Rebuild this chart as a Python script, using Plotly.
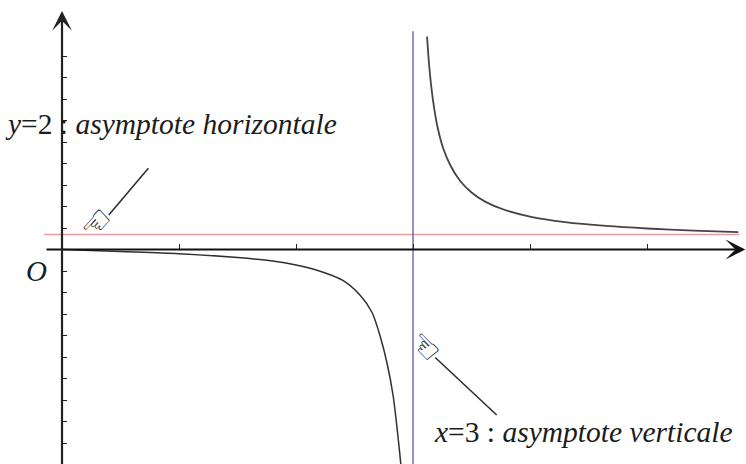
import plotly.graph_objects as go

# ---- data ----
H_ASYMPTOTE = 2          # y = 2
V_ASYMPTOTE = 3          # x = 3

left_x = [0.0, 0.5, 1.0, 1.5, 1.8, 2.0, 2.2, 2.4, 2.55, 2.65, 2.72, 2.78,
          2.83, 2.87, 2.9, 2.915]
left_y = [0.0, -0.27, -0.56, -1.07, -1.53, -2.07, -2.87, -4.13, -6.13, -8.4,
          -11.6, -15.3, -19.5, -24.7, -29.3, -32.0]

right_x = [3.12, 3.14, 3.17, 3.21, 3.26, 3.32, 3.4, 3.5, 3.62, 3.78, 4.0,
           4.3, 4.65, 5.0, 5.4, 5.78]
right_y = [28.4, 24.2, 20.0, 16.3, 13.4, 11.2, 9.2, 7.6, 6.35, 5.3, 4.4,
           3.66, 3.14, 2.8, 2.53, 2.33]

h_line_x = [-0.155, 5.79]
v_line_y = [-30.0, 29.1]

x_ticks = [1, 2, 3, 4, 5]
y_tick_step = 2.867
y_ticks = [k * y_tick_step for k in range(-10, 10)]

# ---- geometry of the view ----
X_RANGE = [-0.530, 5.846]
Y_RANGE = [-28.6, 33.27]

SERIF = "Liberation Serif"
TXT = "#1c1c1c"

fig = go.Figure()

fig.add_trace(go.Scatter(x=h_line_x, y=[H_ASYMPTOTE, H_ASYMPTOTE], mode="lines",
                         line=dict(color="#e99aa3", width=1.7), hoverinfo="skip"))
fig.add_trace(go.Scatter(x=[V_ASYMPTOTE, V_ASYMPTOTE], y=v_line_y, mode="lines",
                         line=dict(color="#4c4c92", width=1.2), hoverinfo="skip"))
fig.add_trace(go.Scatter(x=left_x, y=left_y, mode="lines",
                         line=dict(color="#303030", width=1.5, shape="spline", smoothing=0.8),
                         hoverinfo="skip"))
fig.add_trace(go.Scatter(x=right_x, y=right_y, mode="lines",
                         line=dict(color="#454545", width=1.8, shape="spline", smoothing=0.8),
                         hoverinfo="skip"))

# pointer lines
fig.add_shape(type="line", x0=0.738, y0=10.83, x1=0.40, y1=4.6,
              line=dict(color="#2a2a2a", width=1.5))
fig.add_shape(type="line", x0=3.715, y0=-22.07, x1=3.19, y1=-14.4,
              line=dict(color="#2a2a2a", width=1.5))

annotations = [
    # axes arrows
    dict(x=5.84, y=0, ax=-0.145, ay=0, xref="x", yref="y", axref="x", ayref="y",
         text="", showarrow=True, arrowhead=3, arrowsize=1.5, arrowwidth=2.2,
         arrowcolor="#111111", standoff=0, startstandoff=0),
    dict(x=0, y=31.8, ax=0, ay=-30, xref="x", yref="y", axref="x", ayref="y",
         text="", showarrow=True, arrowhead=3, arrowsize=1.5, arrowwidth=2.2,
         arrowcolor="#222222", standoff=0, startstandoff=0),
    # labels
    dict(x=-0.504, y=16.8, xref="x", yref="y", xanchor="left", yanchor="middle",
         text="<i>y</i>=2 : <i>asymptote horizontale</i>", showarrow=False,
         font=dict(family=SERIF, size=29.5, color=TXT)),
    dict(x=3.162, y=-24.27, xref="x", yref="y", xanchor="left", yanchor="middle",
         text="<i>x</i>=3 : <i>asymptote verticale</i>", showarrow=False,
         font=dict(family=SERIF, size=29.5, color=TXT)),
    dict(x=-0.214, y=-2.8, xref="x", yref="y", xanchor="center", yanchor="middle",
         text="<i>O</i>", showarrow=False,
         font=dict(family=SERIF, size=29, color=TXT)),
    # pointing hands
    dict(x=0.29, y=3.5, xref="x", yref="y", text="\u261c", showarrow=False,
         textangle=-48, font=dict(family="DejaVu Sans", size=34, color="#000000")),
    dict(x=3.105, y=-12.9, xref="x", yref="y", text="\u261c", showarrow=False,
         textangle=46, font=dict(family="DejaVu Sans", size=34, color="#000000")),
]

fig.update_layout(
    width=746, height=464,
    margin=dict(l=0, r=0, t=0, b=0),
    paper_bgcolor="white", plot_bgcolor="white",
    showlegend=False,
    annotations=annotations,
    xaxis=dict(range=X_RANGE, showgrid=False, zeroline=False, showline=False,
               tickmode="array", tickvals=x_ticks, showticklabels=False,
               ticks="inside", ticklen=5, tickwidth=1, tickcolor="#222222",
               anchor="free", position=0.4623, fixedrange=True),
    yaxis=dict(range=Y_RANGE, showgrid=False, zeroline=False, showline=False,
               tickmode="array", tickvals=y_ticks, showticklabels=False,
               ticks="inside", ticklen=4, tickwidth=1, tickcolor="#222222",
               anchor="free", position=0.0831, fixedrange=True),
)

fig.write_html("out.html", config={"displayModeBar": False},
               post_script="document.body.style.margin='0';document.body.style.overflow='hidden';")
